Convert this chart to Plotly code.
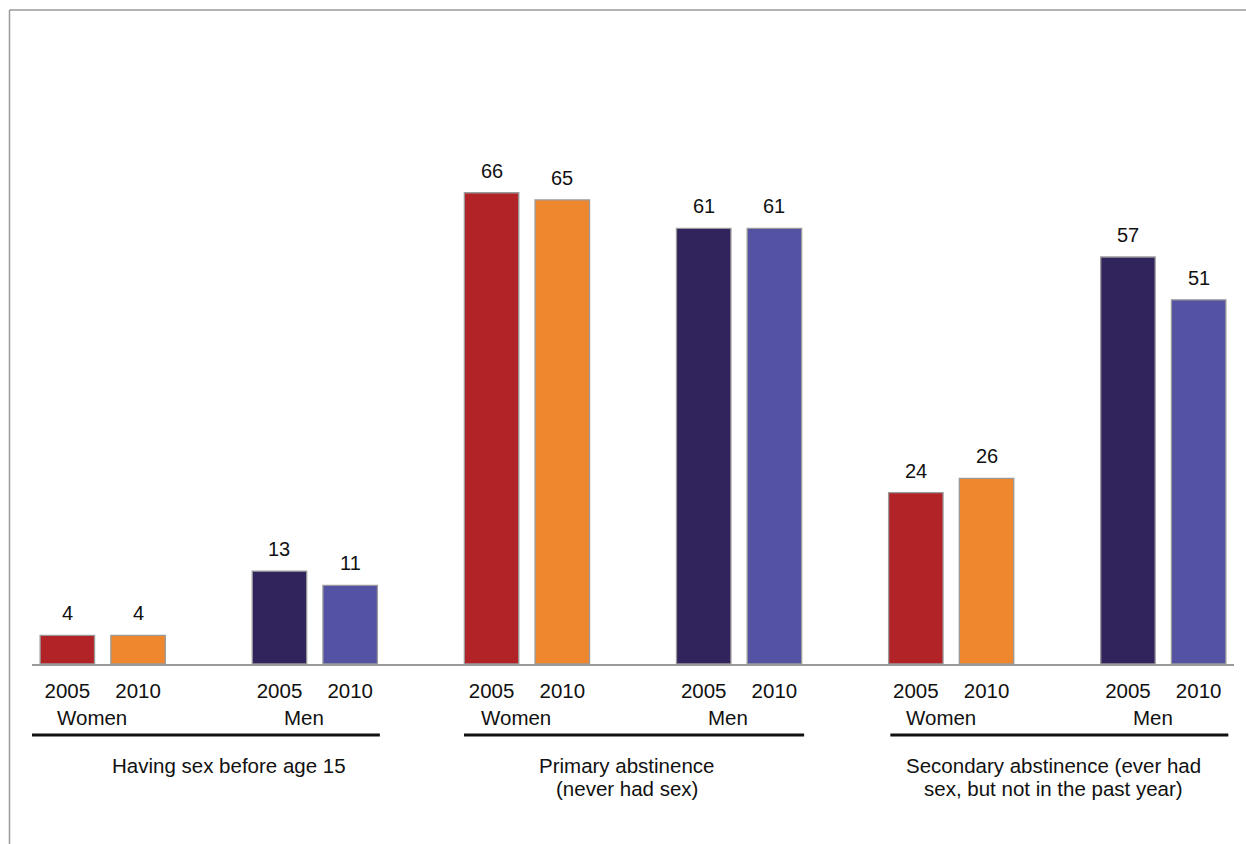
import plotly.graph_objects as go

# Survey indicators (percent), by sex and survey year
groups = [
    ["Having sex before age 15"],
    ["Primary abstinence", "(never had sex)"],
    ["Secondary abstinence (ever had", "sex, but not in the past year)"],
]
sexes = ["Women", "Men"]
years = ["2005", "2010"]

women_2005 = [4, 66, 24]
women_2010 = [4, 65, 26]
men_2005 = [13, 61, 57]
men_2010 = [11, 61, 51]

series = [
    ("Women", "2005", women_2005, "#B22328"),
    ("Women", "2010", women_2010, "#EE872D"),
    ("Men", "2005", men_2005, "#31235C"),
    ("Men", "2010", men_2010, "#5352A3"),
]

FONT = "Arial, 'Liberation Sans', sans-serif"
TXT = "#111111"


def slot(g, s, y):
    # each indicator occupies 6 slots: W05 W10 gap M05 M10 gap
    return g * 6 + s * 3 + y


fig = go.Figure()
annotations = []
tickvals, ticktext = [], []

for sex, yr, vals, col in series:
    s = sexes.index(sex)
    y = years.index(yr)
    xs = [slot(g, s, y) for g in range(len(groups))]
    fig.add_trace(go.Bar(
        x=xs, y=vals, width=0.77,
        marker=dict(color=col, line=dict(color="#9a9a9a", width=1.3)),
        name=f"{sex} {yr}", showlegend=False, hoverinfo="skip",
    ))
    for xv, v in zip(xs, vals):
        annotations.append(dict(
            x=xv, y=v, xref="x", yref="y", text=str(v), showarrow=False,
            yanchor="bottom", yshift=9, font=dict(size=20, color=TXT, family=FONT),
        ))
    tickvals += xs
    ticktext += [yr] * len(xs)

# sex labels under each pair of bars
for g in range(len(groups)):
    for s, sex in enumerate(sexes):
        annotations.append(dict(
            x=slot(g, s, 0.5) - 0.15, y=(664 - 717) / 654, xref="x", yref="paper",
            text=sex, showarrow=False, yanchor="middle",
            font=dict(size=20.5, color=TXT, family=FONT),
        ))

# indicator titles
title_shift = [0.28, -0.09, -0.05]
for g, lines in enumerate(groups):
    for i, line in enumerate(lines):
        annotations.append(dict(
            x=g * 6 + 2 + title_shift[g], y=(664 - (765 + 23 * i)) / 654,
            xref="x", yref="paper", text=line, showarrow=False, yanchor="middle",
            font=dict(size=20.5, color=TXT, family=FONT),
        ))

shapes = []
left_pad = [0.57, 0.39, 0.36]
for g in range(len(groups)):
    shapes.append(dict(
        type="line", xref="x", yref="paper",
        x0=g * 6 - left_pad[g], x1=g * 6 + 4.42,
        y0=(664 - 735) / 654, y1=(664 - 735) / 654,
        line=dict(color="#111111", width=3),
    ))

# outer frame (top and left edges)
fx = (9.5 - 32) / 1202
shapes.append(dict(type="line", xref="paper", yref="paper", x0=fx, x1=1.02,
                   y0=1, y1=1, line=dict(color="#9a9a9a", width=1.5)))
shapes.append(dict(type="line", xref="paper", yref="paper", x0=fx, x1=fx,
                   y0=1, y1=-0.3, line=dict(color="#9a9a9a", width=1.5)))

fig.update_layout(
    width=1246, height=844,
    margin=dict(l=32, r=12, t=10, b=180),
    paper_bgcolor="white", plot_bgcolor="white",
    barmode="overlay",
    annotations=annotations, shapes=shapes,
    xaxis=dict(
        range=[-0.5, 16.5], tickvals=tickvals, ticktext=ticktext,
        showline=True, linecolor="#9a9a9a", linewidth=1.5,
        showgrid=False, zeroline=False,
        ticks="outside", ticklen=8, tickcolor="rgba(0,0,0,0)",
        tickfont=dict(size=20.5, color=TXT, family=FONT),
        fixedrange=True,
    ),
    yaxis=dict(range=[0, 654 / 7.14], visible=False, fixedrange=True),
)

fig.write_html("out.html")
